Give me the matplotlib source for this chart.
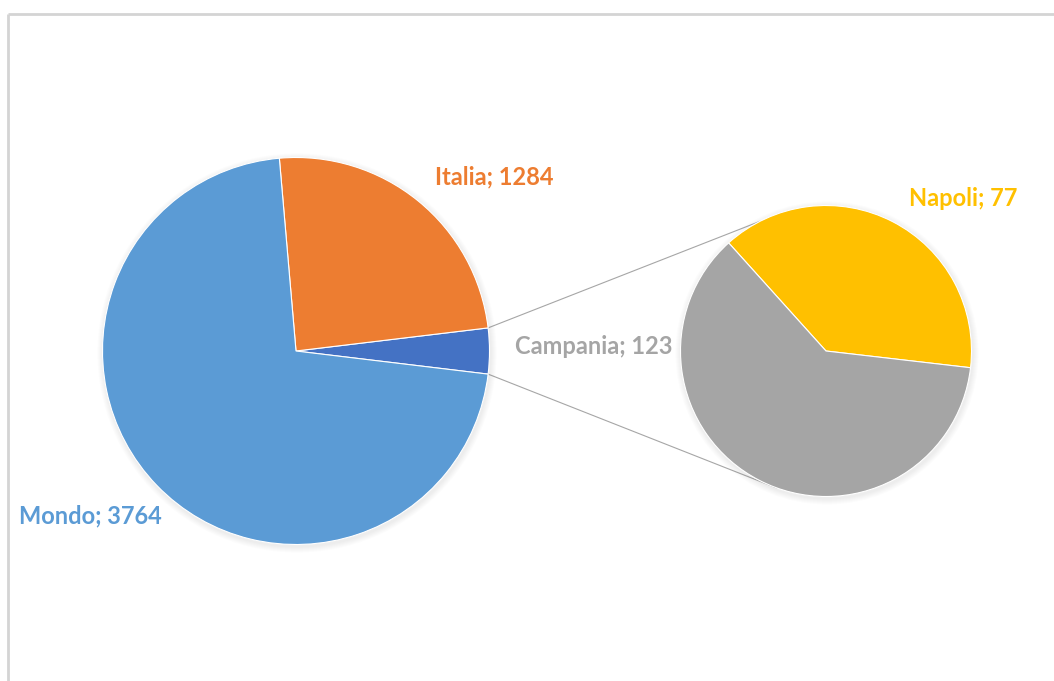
import numpy as np
import matplotlib.pyplot as plt
from matplotlib.patches import Circle

# data
main_labels = ['Altro', 'Italia', 'Mondo']
main_values = [200, 1284, 3764]
main_colors = ['#4472C4', '#ED7D31', '#5B9BD5']
sub_labels = ['Napoli', 'Campania']
sub_values = [77, 123]
sub_colors = ['#FFC000', '#A5A5A5']

W, H = 1054, 681
fig = plt.figure(figsize=(W / 100, H / 100), dpi=100)
ax = fig.add_axes([0, 0, 1, 1])

# chart border (only top and left visible)
ax.plot([8, W], [H - 14, H - 14], color='#d4d4d4', lw=2, solid_capstyle='butt')
ax.plot([8, 8], [H - 14, 0], color='#d4d4d4', lw=2, solid_capstyle='butt')

c1, r1 = (296, H - 351), 193.5
c2, r2 = (826, H - 351), 145.5

# soft shadow behind the pies
for c, r in [(c1, r1), (c2, r2)]:
    for k in range(1, 7):
        ax.add_patch(Circle((c[0] + 1, c[1] - 2), r + k, color='#808080',
                            alpha=0.025, lw=0, zorder=0.5))

other_span = 360 * main_values[0] / sum(main_values)
start1 = -other_span / 2
ax.pie(main_values, colors=main_colors, startangle=start1, counterclock=True,
       center=c1, radius=r1, frame=True,
       wedgeprops=dict(edgecolor='white', linewidth=0.8))
ax.pie(sub_values, colors=sub_colors, startangle=-6.6, counterclock=True,
       center=c2, radius=r2, frame=True,
       wedgeprops=dict(edgecolor='white', linewidth=0.8))
ax.set_xlim(0, W)
ax.set_ylim(0, H)
ax.set_aspect('equal')
ax.axis('off')

# connector lines
def pt(c, r, a):
    return c[0] + r * np.cos(np.radians(a)), c[1] + r * np.sin(np.radians(a))

for a1, a2 in [(start1 + other_span, 117), (start1, 250)]:
    p1 = pt(c1, r1, a1)
    p2 = pt(c2, r2, a2)
    ax.plot([p1[0], p2[0]], [p1[1], p2[1]], color='#a6a6a6', lw=0.8, zorder=0)

font = dict(family='Lato', fontweight='bold', fontsize=17, ha='center', va='center')
ax.text(494, H - 177, f'{main_labels[1]}; {main_values[1]}', color=main_colors[1], **font)
ax.text(90, H - 516, f'{main_labels[2]}; {main_values[2]}', color=main_colors[2], **font)
ax.text(594, H - 347, f'{sub_labels[1]}; {sub_values[1]}', color=sub_colors[1], **font)
ax.text(963, H - 198, f'{sub_labels[0]}; {sub_values[0]}', color=sub_colors[0], **font)

fig.savefig('out.png', dpi=100, facecolor='white')
